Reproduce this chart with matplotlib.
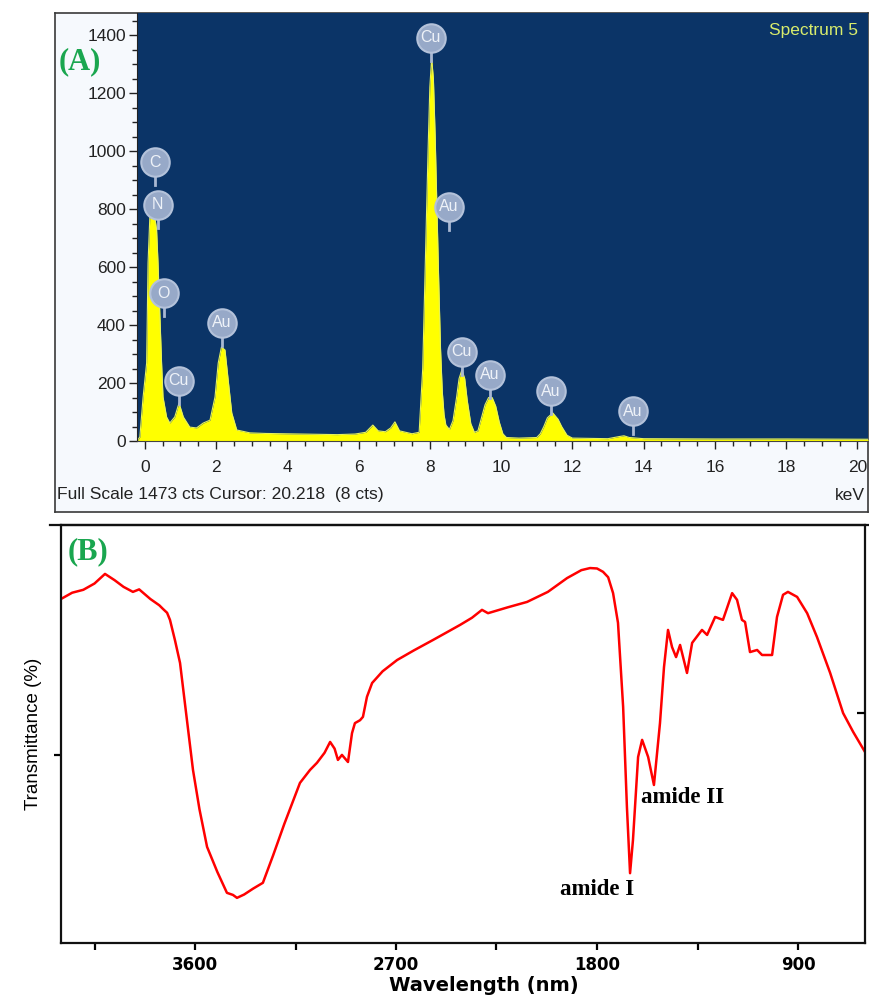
import matplotlib
matplotlib.use("Agg")
import matplotlib.pyplot as plt
from matplotlib.lines import Line2D
from matplotlib.ticker import MultipleLocator

# (A) EDX spectrum
edx_kev = [-0.22, -0.14, -0.05, 0.05, 0.09, 0.14, 0.2, 0.26, 0.33, 0.37, 0.42, 0.47, 0.51,
           0.61, 0.7, 0.84, 0.96, 1.08, 1.26, 1.45, 1.64, 1.83, 1.97, 2.06, 2.15, 2.25,
           2.34, 2.44, 2.58, 2.95, 3.4, 3.9, 4.4, 4.9, 5.4, 5.9, 6.2, 6.4, 6.55, 6.75,
           6.9, 7.02, 7.15, 7.5, 7.7, 7.8, 7.85, 7.9, 7.95, 8.0, 8.05, 8.1, 8.15, 8.2,
           8.25, 8.3, 8.35, 8.4, 8.45, 8.55, 8.65, 8.75, 8.82, 8.9, 8.98, 9.05, 9.15,
           9.25, 9.35, 9.45, 9.55, 9.65, 9.75, 9.85, 9.95, 10.05, 10.15, 10.5, 11.0,
           11.1, 11.2, 11.3, 11.45, 11.6, 11.7, 11.85, 12.0, 13.0, 13.3, 13.45, 13.6,
           14.0, 16.0, 18.0, 20.3]
edx_counts = [0, 14, 150, 269, 614, 772, 820, 790, 728, 614, 441, 269, 152,
              83, 62, 83, 131, 83, 48, 45, 62, 72, 152, 269, 324, 314,
              210, 97, 38, 28, 26, 25, 24, 23, 22, 24, 30, 55, 35, 32,
              45, 66, 35, 25, 30, 250, 500, 750, 1000, 1220, 1320, 1250, 1050, 800,
              550, 320, 170, 90, 55, 40, 70, 150, 215, 245, 215, 140, 60,
              30, 35, 80, 125, 150, 150, 120, 65, 25, 12, 10, 12,
              25, 50, 80, 97, 75, 50, 20, 10, 8, 15, 18, 12,
              8, 7, 7, 6]

peak_names = ["C", "N", "O", "Cu", "Au", "Cu", "Au", "Cu", "Au", "Au", "Au"]
peak_kev = [0.28, 0.36, 0.53, 0.95, 2.16, 8.03, 8.54, 8.9, 9.69, 11.4, 13.7]
peak_counts = [962, 814, 510, 207, 407, 1390, 807, 307, 228, 172, 103]

# (B) FTIR spectrum
ftir_wn = [4200, 4150, 4100, 4050, 4003, 3960, 3920, 3878, 3850, 3800, 3760, 3743, 3725,
           3712, 3690, 3667, 3636, 3609, 3580, 3546, 3500, 3457, 3430, 3412, 3380, 3340,
           3296, 3250, 3200, 3130, 3085, 3054, 3020, 2995, 2975, 2960, 2942, 2915, 2897,
           2884, 2861, 2848, 2830, 2807, 2760, 2695, 2620, 2534, 2470, 2413, 2360, 2315,
           2288, 2200, 2113, 2020, 1934, 1870, 1831, 1800, 1773, 1750, 1728, 1706, 1683,
           1666, 1652, 1639, 1616, 1598, 1571, 1545, 1518, 1500, 1482, 1464, 1446, 1428,
           1397, 1374, 1330, 1307, 1271, 1236, 1195, 1173, 1151, 1137, 1115, 1083, 1061,
           1016, 994, 967, 945, 904, 859, 815, 756, 698, 653, 600]
ftir_t = [82.3, 83.8, 84.5, 86.0, 88.3, 86.8, 85.2, 84.0, 84.6, 82.3, 80.8, 79.9, 79.0,
          77.3, 72.5, 67.0, 53.3, 41.4, 32.0, 23.0, 17.0, 12.0, 11.5, 10.8, 11.6, 13.0,
          14.4, 21.0, 28.5, 38.3, 41.4, 43.1, 45.5, 48.1, 46.5, 43.8, 45.0, 43.3, 50.2,
          52.6, 53.3, 54.1, 58.9, 62.2, 65.0, 67.7, 70.0, 72.5, 74.4, 76.1, 77.8, 79.7,
          78.9, 80.3, 81.6, 84.0, 87.3, 89.2, 89.7, 89.6, 88.8, 87.5, 83.7, 76.6, 56.5,
          32.5, 16.7, 24.6, 44.5, 48.6, 44.5, 37.8, 52.6, 66.0, 74.9, 70.8, 68.4, 71.3,
          64.6, 71.8, 74.9, 73.7, 78.0, 77.3, 83.7, 82.1, 77.3, 76.8, 69.6, 70.1, 68.9,
          68.9, 78.0, 83.3, 84.0, 82.8, 78.9, 73.2, 64.6, 55.0, 50.5, 45.7]
ftir_ticks = [4050, 3600, 3150, 2700, 2250, 1800, 1350, 900]
ftir_tick_labels = ["", "3600", "", "2700", "", "1800", "", "900"]
amide_labels = ["amide I", "amide II"]
amide_wn = [1800, 1415]
amide_t = [12.9, 34.9]

W, H = 870, 996
sans = ["Liberation Sans", "DejaVu Sans"]
fig = plt.figure(figsize=(W / 100, H / 100), dpi=100)

def fbox(x0, y0, x1, y1):
    return [x0 / W, 1 - y1 / H, (x1 - x0) / W, (y1 - y0) / H]

# ---------- panel A ----------
frame = fig.add_axes(fbox(55, 13, 868, 512), zorder=0)
frame.set_facecolor("#f6f9fd")
frame.set_xticks([])
frame.set_yticks([])
for s in frame.spines.values():
    s.set_color("#3a3a3a")
    s.set_linewidth(1.2)

ax1 = fig.add_axes(fbox(137, 13, 868, 441), zorder=1)
ax1.set_facecolor("#0b3467")
ax1.fill_between(edx_kev, edx_counts, 0, color="#ffff00", lw=0)
ax1.plot(edx_kev, edx_counts, color="#e6f25a", lw=0.8)
ax1.set_xlim(-0.22, 20.3)
ax1.set_ylim(0, 1476)
ax1.spines["top"].set_visible(False)
ax1.spines["right"].set_visible(False)
ax1.spines["left"].set_color("#222222")
ax1.spines["bottom"].set_color("#444444")
ax1.xaxis.set_major_locator(MultipleLocator(2))
ax1.xaxis.set_minor_locator(MultipleLocator(0.5))
ax1.yaxis.set_major_locator(MultipleLocator(200))
ax1.yaxis.set_minor_locator(MultipleLocator(50))
ax1.tick_params(which="major", length=6, width=1, color="#222222", labelsize=12.5, pad=8)
ax1.tick_params(which="minor", length=3.5, width=1, color="#222222")
ax1.tick_params(axis="y", pad=2)
for lab in ax1.get_xticklabels() + ax1.get_yticklabels():
    lab.set_family(sans)
    lab.set_color("#222222")

# element markers
for name, x, y in zip(peak_names, peak_kev, peak_counts):
    ax1.plot([x, x], [y - 45, y - 80], color="#a9b8d2", lw=2, zorder=3)
    ax1.scatter([x], [y], s=420, color="#97a9c8", edgecolors="#b4c2da", linewidths=1.5, zorder=4)
    ax1.text(x, y, name, ha="center", va="center", color="#eef2f8", fontsize=11.5,
             family=sans, zorder=5)

fig.text(858 / W, 1 - 30 / H, "Spectrum 5", ha="right", va="center", color="#d8ec6c",
         fontsize=12.5, family=sans)
fig.text(57 / W, 1 - 495 / H, "Full Scale 1473 cts Cursor: 20.218  (8 cts)", ha="left",
         va="center", color="#222222", fontsize=12.6, family=sans)
fig.text(865 / W, 1 - 495 / H, "keV", ha="right", va="center", color="#222222",
         fontsize=12.6, family=sans)
fig.text(80 / W, 1 - 62 / H, "(A)", ha="center", va="center", color="#1aa64f",
         fontsize=22, fontweight="bold", family="Liberation Serif")

# ---------- panel B ----------
ax2 = fig.add_axes(fbox(61, 525, 865, 943))
ax2.plot(ftir_wn, ftir_t, color="#ff0000", lw=1.8)
ax2.set_xlim(4200, 600)
ax2.set_ylim(0, 100)
for s in ax2.spines.values():
    s.set_linewidth(1.6)
    s.set_color("#111111")
ax2.set_xticks(ftir_ticks)
ax2.set_xticklabels(ftir_tick_labels, fontsize=12, fontweight="bold", family="DejaVu Sans")
ax2.set_yticks([45])
ax2.set_yticklabels([])
ax2.tick_params(axis="x", direction="out", length=5, width=1.6, pad=4)
ax2.tick_params(axis="y", direction="out", length=5, width=1.6)
rt = ax2.twinx()
rt.set_ylim(0, 100)
rt.set_yticks([55])
rt.set_yticklabels([])
rt.tick_params(axis="y", direction="in", length=6, width=1.6)
for s in rt.spines.values():
    s.set_visible(False)

ax2.set_xlabel("Wavelength (nm)", fontsize=14, fontweight="bold", family="DejaVu Sans")
ax2.xaxis.set_label_coords(0.526, -0.078)
ax2.set_ylabel("Transmittance (%)", fontsize=13.5, family=sans)
ax2.yaxis.set_label_coords(-0.024, 0.5)

for txt, x, y in zip(amide_labels, amide_wn, amide_t):
    ax2.text(x, y, txt, ha="center", va="center", fontsize=16.5, fontweight="bold",
             family="Liberation Serif")

fig.add_artist(Line2D([50 / W, 870 / W], [1 - 525 / H, 1 - 525 / H], color="#111111", lw=1.6))
fig.text(88 / W, 1 - 552 / H, "(B)", ha="center", va="center", color="#1aa64f",
         fontsize=22, fontweight="bold", family="Liberation Serif")

fig.savefig("out.png", dpi=100)
